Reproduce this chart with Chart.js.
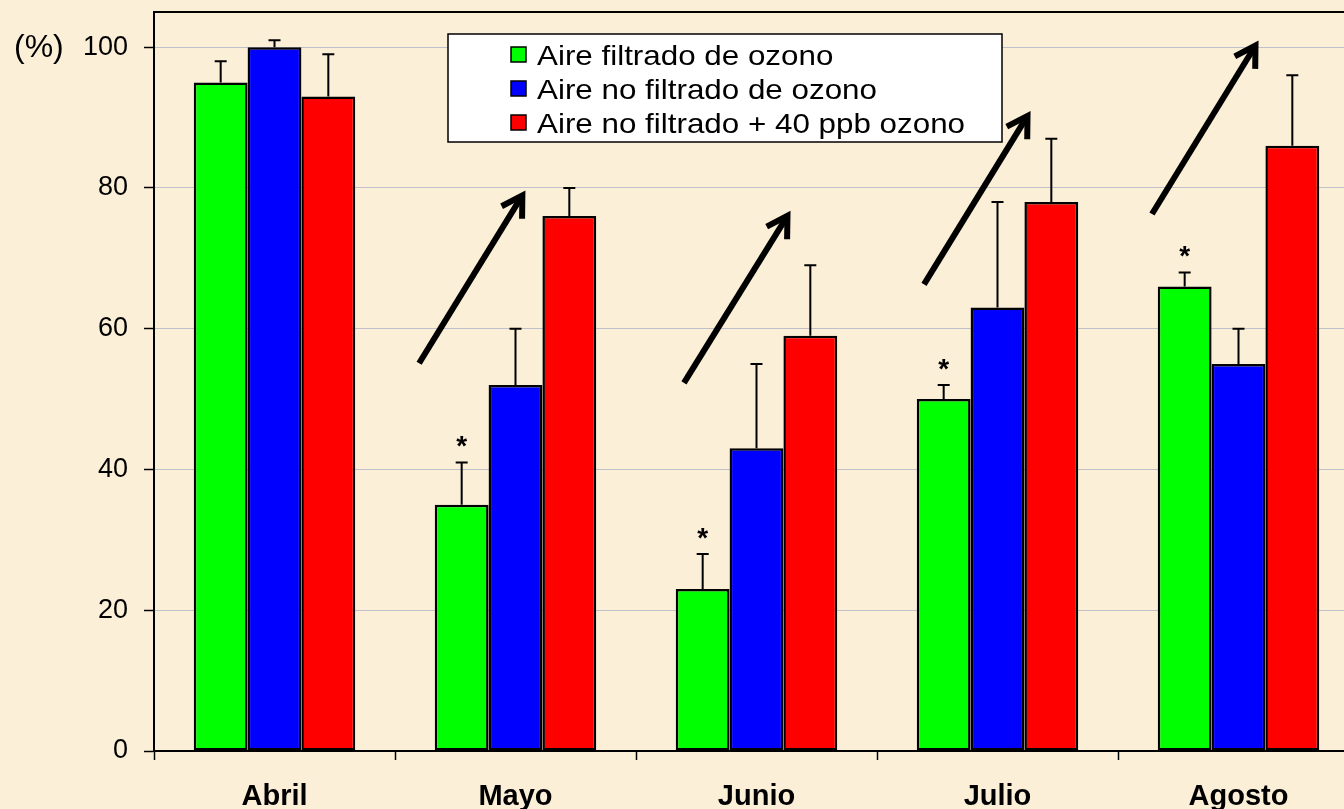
<!DOCTYPE html>
<html>
<head>
<meta charset="utf-8">
<script src="https://cdn.jsdelivr.net/npm/chart.js@4.4.1/dist/chart.umd.min.js"></script>
<style>
  html, body { margin: 0; padding: 0; overflow: hidden; background: #FBEFD7; }
  #wrap { width: 1360px; height: 809px; }
</style>
</head>
<body>
<div id="wrap"><canvas id="c" width="1360" height="809"></canvas></div>
<script>
// ---- Data ----
const categories = ['Abril', 'Mayo', 'Junio', 'Julio', 'Agosto'];
const seriesLabels = ['Aire filtrado de ozono', 'Aire no filtrado de ozono', 'Aire no filtrado + 40 ppb ozono'];
const filtrado      = [95, 35, 23, 50, 66];
const filtradoErr   = [98, 41, 28, 52, 68];
const noFiltrado    = [100, 52, 43, 63, 55];
const noFiltradoErr = [101, 60, 55, 78, 60];
const ozono         = [93, 76, 59, 78, 86];
const ozonoErr      = [99, 80, 69, 87, 96];
const significant   = [false, true, true, true, true];
// arrows: [x (category index), y value] for start and end
const arrowStart = [[0.600, 55.1], [1.699, 52.3], [2.695, 66.3], [3.641, 76.3]];
const arrowEnd   = [[1.035, 79.3], [2.135, 76.4], [3.131, 90.6], [4.077, 100.6]];
const yTicks = [0, 20, 40, 60, 80, 100];
const yUnit = '(%)';

const colors = ['#00FF00', '#0000FF', '#FF0000'];
const errTops = [filtradoErr, noFiltradoErr, ozonoErr];
const FONT = '"Liberation Sans", Arial, sans-serif';

const extrasPlugin = {
  id: 'extras',
  afterDatasetsDraw(chart) {
    const ctx = chart.ctx;
    const ys = chart.scales.y, xs = chart.scales.x;
    const area = chart.chartArea;
    ctx.save();
    // top frame line
    ctx.strokeStyle = '#000';
    ctx.lineWidth = 2;
    ctx.beginPath();
    ctx.moveTo(area.left - 1, area.top);
    ctx.lineTo(area.right + 1, area.top);
    ctx.stroke();

    // error bars
    ctx.lineWidth = 2;
    chart.data.datasets.forEach((ds, di) => {
      const meta = chart.getDatasetMeta(di);
      meta.data.forEach((bar, i) => {
        const yTop = ys.getPixelForValue(errTops[di][i]);
        ctx.beginPath();
        ctx.moveTo(bar.x, bar.y);
        ctx.lineTo(bar.x, yTop);
        ctx.moveTo(bar.x - 6, yTop);
        ctx.lineTo(bar.x + 6, yTop);
        ctx.stroke();
      });
    });

    // asterisks
    ctx.fillStyle = '#000';
    ctx.font = 'bold 28px ' + FONT;
    ctx.textAlign = 'center';
    ctx.textBaseline = 'alphabetic';
    const m0 = chart.getDatasetMeta(0);
    significant.forEach((s, i) => {
      if (!s) return;
      const bar = m0.data[i];
      const yTop = ys.getPixelForValue(filtradoErr[i]);
      ctx.fillText('*', bar.x, yTop - 7);
    });

    // arrows
    ctx.lineWidth = 6;
    ctx.lineCap = 'butt';
    ctx.lineJoin = 'miter';
    arrowStart.forEach((st, k) => {
      const en = arrowEnd[k];
      const x1 = xs.getPixelForValue(st[0]), y1 = ys.getPixelForValue(st[1]);
      const x2 = xs.getPixelForValue(en[0]), y2 = ys.getPixelForValue(en[1]);
      const ang = Math.atan2(y2 - y1, x2 - x1);
      const headLen = 26, spread = 0.48;
      ctx.beginPath();
      ctx.moveTo(x1, y1);
      ctx.lineTo(x2 - 3 * Math.cos(ang), y2 - 3 * Math.sin(ang));
      ctx.stroke();
      ctx.beginPath();
      ctx.moveTo(x2 - headLen * Math.cos(ang - spread), y2 - headLen * Math.sin(ang - spread));
      ctx.lineTo(x2 - 3 * Math.cos(ang), y2 - 3 * Math.sin(ang));
      ctx.lineTo(x2 - headLen * Math.cos(ang + spread), y2 - headLen * Math.sin(ang + spread));
      ctx.stroke();
    });

    // legend
    const lx = 448, ly = 34, lw = 554, lh = 108;
    ctx.fillStyle = '#FFFFFF';
    ctx.fillRect(lx, ly, lw, lh);
    ctx.lineWidth = 1.5;
    ctx.strokeStyle = '#000';
    ctx.strokeRect(lx, ly, lw, lh);
    chart.data.datasets.forEach((ds, di) => {
      const cy = 55 + di * 34;
      ctx.fillStyle = ds.backgroundColor;
      ctx.fillRect(511, cy - 8, 15, 15);
      ctx.strokeRect(511, cy - 8, 15, 15);
      ctx.save();
      ctx.translate(537, cy + 2);
      ctx.scale(1.12, 1);
      ctx.fillStyle = '#000';
      ctx.font = '28px ' + FONT;
      ctx.textAlign = 'left';
      ctx.textBaseline = 'middle';
      ctx.fillText(ds.label, 0, 0);
      ctx.restore();
    });

    // unit label
    ctx.fillStyle = '#000';
    ctx.font = '32px ' + FONT;
    ctx.textAlign = 'left';
    ctx.textBaseline = 'middle';
    ctx.fillText(yUnit, 14, ys.getPixelForValue(100) + 1);
    ctx.restore();
  }
};

const chart = new Chart(document.getElementById('c'), {
  type: 'bar',
  data: {
    labels: categories,
    datasets: [filtrado, noFiltrado, ozono].map((vals, i) => ({
      label: seriesLabels[i],
      data: vals,
      backgroundColor: colors[i],
      borderColor: '#000',
      borderWidth: 2.5,
      borderSkipped: false,
      categoryPercentage: 0.67,
      barPercentage: 1.0
    }))
  },
  options: {
    responsive: false,
    devicePixelRatio: 1,
    animation: false,
    layout: { padding: { top: 12, right: 1, left: 0, bottom: 0 } },
    plugins: { legend: { display: false }, tooltip: { enabled: false } },
    scales: {
      x: {
        grid: { offset: true, drawOnChartArea: false, tickLength: 9, tickColor: '#000', tickWidth: 1.5 },
        border: { color: '#000', width: 2 },
        ticks: { color: '#000', font: { family: FONT, size: 29, weight: 'bold' }, padding: 20, maxRotation: 0 },
        afterFit(scale) { scale.height = 58; scale.paddingLeft = 0; scale.paddingRight = 0; }
      },
      y: {
        min: 0,
        max: 105,
        grid: { color: '#BFC0CA', lineWidth: 1, tickLength: 10, tickColor: '#000', tickWidth: 1.5 },
        border: { color: '#000', width: 2 },
        ticks: { color: '#000', font: { family: FONT, size: 27 }, padding: 16, stepSize: 20 },
        afterBuildTicks(scale) { scale.ticks = yTicks.map(v => ({ value: v })); },
        afterFit(scale) { scale.width = 154; scale.paddingTop = 0; scale.paddingBottom = 0; }
      }
    }
  },
  plugins: [extrasPlugin]
});
</script>
</body>
</html>
